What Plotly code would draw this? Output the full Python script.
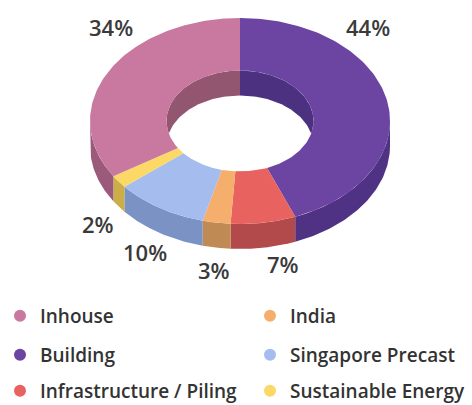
import numpy as np
import plotly.graph_objects as go

# ---- data ----
categories = ["Building", "Infrastructure / Piling", "India", "Singapore Precast",
              "Sustainable Energy", "Inhouse"]
shares = [44, 7, 3, 10, 2, 34]
legend_order = ["Inhouse", "India", "Building", "Singapore Precast",
                "Infrastructure / Piling", "Sustainable Energy"]

# ---- styles ----
top_colors = {"Building": "#6c44a1", "Infrastructure / Piling": "#e8625f", "India": "#f6ae6c",
              "Singapore Precast": "#a4bcee", "Sustainable Energy": "#fcd866", "Inhouse": "#c9789f"}
side_colors = {"Building": "#4f3283", "Infrastructure / Piling": "#b24a4b", "India": "#c08a55",
               "Singapore Precast": "#7b92c5", "Sustainable Energy": "#cbae48", "Inhouse": "#9b5a7a"}
wall_colors = {"Building": "#4c3180", "Infrastructure / Piling": "#b24a4b", "India": "#c08a55",
               "Singapore Precast": "#7b92c5", "Sustainable Energy": "#cbae48", "Inhouse": "#935671"}
# label placement (layout, pixel coords) per category
label_xy = {"Building": (368, 27), "Inhouse": (111, 27), "Sustainable Energy": (98, 224),
            "Singapore Precast": (145, 252), "India": (214, 270), "Infrastructure / Piling": (283, 264)}

W, H = 472, 405
cx, cy, rx, ry = 240, 121, 150, 103
hole = 0.49
depth = 25


def pt(t, r=1.0, dy=0.0):
    t = np.radians(t)
    return cx + r * rx * np.sin(t), cy - r * ry * np.cos(t) + dy


fig = go.Figure()
total = sum(shares)
bounds = []
acc = 0
for c, v in zip(categories, shares):
    a1 = acc / total * 360
    acc += v
    a2 = acc / total * 360
    bounds.append((c, a1, a2))


def add_poly(xs, ys, color):
    fig.add_trace(go.Scatter(x=list(xs), y=list(ys), fill="toself", fillcolor=color,
                             mode="lines", line=dict(width=0), hoverinfo="skip",
                             showlegend=False))


# inner wall (wedges inside hole)
for c, a1, a2 in bounds:
    ts = np.linspace(a1, a2, 80)
    x, y = pt(ts, hole)
    add_poly(np.r_[cx, x, cx], np.r_[cy, y, cy], wall_colors[c])
# hole floor
ts = np.linspace(0, 360, 200)
x, y = pt(ts, hole, depth)
add_poly(x, y, "#ffffff")

# outer sides (front half only)
for c, a1, a2 in bounds:
    lo, hi = max(a1, 90), min(a2, 270)
    if hi <= lo:
        continue
    ts = np.linspace(lo, hi, 80)
    x1, y1 = pt(ts)
    x2, y2 = pt(ts[::-1], 1.0, depth)
    add_poly(np.r_[x1, x2, x1[0]], np.r_[y1, y2, y1[0]], side_colors[c])

# top faces
for c, a1, a2 in bounds:
    ts = np.linspace(a1, a2, 120)
    x1, y1 = pt(ts)
    x2, y2 = pt(ts[::-1], hole)
    add_poly(np.r_[x1, x2, x1[0]], np.r_[y1, y2, y1[0]], top_colors[c])

# percentage labels
for c, v in zip(categories, shares):
    lx, ly = label_xy[c]
    fig.add_annotation(x=lx, y=ly, text=f"{round(v / total * 100)}%", showarrow=False,
                       font=dict(family="Open Sans", size=22, color="#3a3a3a", weight=600),
                       xanchor="center", yanchor="middle")

# legend: one legend box per entry (2 columns x 3 rows)
row_y = [316, 355, 391]
col_x = [0, 250]
layout_leg = {}
for i, name in enumerate(legend_order):
    ln = "legend" if i == 0 else f"legend{i + 1}"
    r, col = divmod(i, 2)
    fig.add_trace(go.Scatter(x=[None], y=[None], mode="markers", name=name,
                             marker=dict(size=12, color=top_colors[name]),
                             legend=ln, showlegend=True))
    layout_leg[ln] = dict(orientation="h", x=col_x[col] / W, xanchor="left",
                          y=1 - row_y[r] / H, yanchor="middle",
                          bgcolor="rgba(0,0,0,0)",
                          font=dict(family="Open Sans", size=19, color="#333333", weight=600),
                          itemclick=False, itemdoubleclick=False)

fig.update_layout(
    width=W, height=H, margin=dict(l=0, r=0, t=0, b=0, autoexpand=False),
    paper_bgcolor="white", plot_bgcolor="white",
    xaxis=dict(range=[0, W], visible=False, fixedrange=True),
    yaxis=dict(range=[H, 0], visible=False, fixedrange=True),
    **layout_leg,
)

fig.write_html("out.html", config={"displayModeBar": False},
               post_script="document.body.style.margin='0px';document.body.style.overflow='hidden';")
